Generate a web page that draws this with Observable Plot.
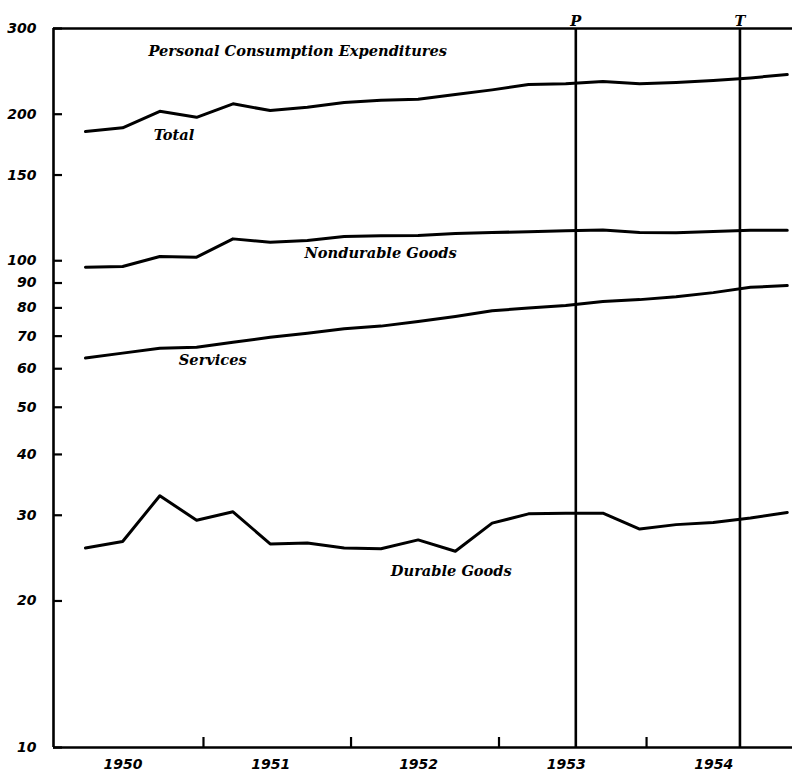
<!DOCTYPE html>
<html>
<head>
<meta charset="utf-8">
<script src="https://cdn.jsdelivr.net/npm/d3@7"></script>
<script src="https://cdn.jsdelivr.net/npm/@observablehq/plot@0.6"></script>
<style>
html, body { margin: 0; padding: 0; background: #fff; }
#chart svg { display: block; }
</style>
</head>
<body>
<div id="chart"></div>
<script>
// Quarterly data, 1950 Q1 – 1954 Q4 (billions of dollars, seasonally adjusted annual rates)
const years = [1950, 1951, 1952, 1953, 1954];
const quarterEndMonths = [3, 6, 9, 12];
const total      = [184.2, 187.5, 202.8, 197.1, 210.1, 203.5, 206.7, 211.4, 213.7, 214.7, 219.5, 224.4, 230.1, 230.9, 233.4, 230.9, 232.3, 234.5, 237.5, 241.2];
const nondurable = [97.0, 97.3, 102.0, 101.7, 110.9, 109.1, 110.0, 112.1, 112.5, 112.7, 113.7, 114.3, 114.7, 115.2, 115.7, 114.3, 114.1, 114.8, 115.5, 115.5];
const services   = [63.1, 64.6, 66.1, 66.4, 68.0, 69.6, 71.0, 72.5, 73.4, 75.0, 76.8, 78.9, 80.0, 80.9, 82.5, 83.2, 84.3, 86.0, 88.2, 88.9];
const durable    = [25.7, 26.5, 32.9, 29.3, 30.5, 26.2, 26.3, 25.7, 25.6, 26.7, 25.3, 28.9, 30.2, 30.3, 30.3, 28.1, 28.7, 29.0, 29.6, 30.4];

const yTicks = [300, 200, 150, 100, 90, 80, 70, 60, 50, 40, 30, 20, 10];
const yearBoundaryTicks = [1951, 1952, 1953, 1954];
const yearLabels = [1950, 1951, 1952, 1953, 1954];

const turningPoints = [
  {label: "P", date: "1953-07-10"},
  {label: "T", date: "1954-08-20"}
];

const seriesLabels = [
  {text: "Personal Consumption Expenditures", date: "1951-08-22", value: 269},
  {text: "Total", date: "1950-10-20", value: 180.8},
  {text: "Nondurable Goods", date: "1952-03-14", value: 103.5},
  {text: "Services", date: "1951-01-24", value: 62.4},
  {text: "Durable Goods", date: "1952-09-05", value: 23.0}
];

// Build long-format table from the named arrays
const seriesDefs = [
  ["Total", total], ["Nondurable Goods", nondurable], ["Services", services], ["Durable Goods", durable]
];
const rows = [];
for (const [name, values] of seriesDefs) {
  let i = 0;
  for (const y of years) for (const m of quarterEndMonths) {
    rows.push({series: name, date: new Date(Date.UTC(y, m - 1, 15)), value: values[i++]});
  }
}
const tp = turningPoints.map(d => ({...d, date: new Date(d.date + "T00:00:00Z")}));
const sl = seriesLabels.map(d => ({...d, date: new Date(d.date + "T00:00:00Z")}));
const xDomain = [new Date(Date.UTC(1949, 11, 26)), new Date(Date.UTC(1954, 11, 28))];

const axisFont = {fontFamily: "DejaVu Sans", fontWeight: "bold", fontStyle: "italic", fontSize: 14};
const serifFont = {fontFamily: "DejaVu Serif", fontWeight: "bold", fontStyle: "italic", fontSize: 14.6};

const chart = Plot.plot({
  width: 792,
  height: 773,
  marginLeft: 53,
  marginRight: 0,
  marginTop: 28,
  marginBottom: 26,
  style: {background: "#fff", color: "#000"},
  x: {type: "utc", domain: xDomain, label: null},
  y: {type: "log", domain: [10, 300], label: null},
  marks: [
    // y labels
    Plot.axisY(yTicks, {anchor: "left", tickSize: 0, tickPadding: 17, tickFormat: d => String(d), label: null, ...axisFont}),
    // inward y ticks
    Plot.axisY(yTicks, {anchor: "left", tickSize: 9, dx: 9, fill: "none", label: null, strokeWidth: 2.2}),
    // inward x ticks at year boundaries
    Plot.axisX(yearBoundaryTicks.map(y => new Date(Date.UTC(y, 0, 1))), {anchor: "bottom", tickSize: 10, dy: -10, fill: "none", label: null, strokeWidth: 2.2}),
    // year labels centered in each year
    Plot.axisX(yearLabels.map(y => new Date(Date.UTC(y, 6, 1))), {anchor: "bottom", tickSize: 0, tickPadding: 12, dx: -6, tickFormat: d => String(d.getUTCFullYear()), label: null, ...axisFont}),
    // frame
    Plot.ruleX([xDomain[0]], {strokeWidth: 2.6}),
    Plot.ruleY([10, 300], {strokeWidth: 2.4}),
    // turning points
    Plot.ruleX(tp, {x: "date", strokeWidth: 2.6}),
    Plot.text(tp, {x: "date", frameAnchor: "top", lineAnchor: "bottom", dy: -3, text: "label", ...serifFont}),
    // series
    Plot.line(rows, {x: "date", y: "value", z: "series", stroke: "#000", strokeWidth: 3, strokeLinejoin: "round", strokeLinecap: "round"}),
    Plot.text(sl, {x: "date", y: "value", text: "text", fill: "#000", ...serifFont})
  ]
});
document.getElementById("chart").appendChild(chart);
</script>
</body>
</html>
